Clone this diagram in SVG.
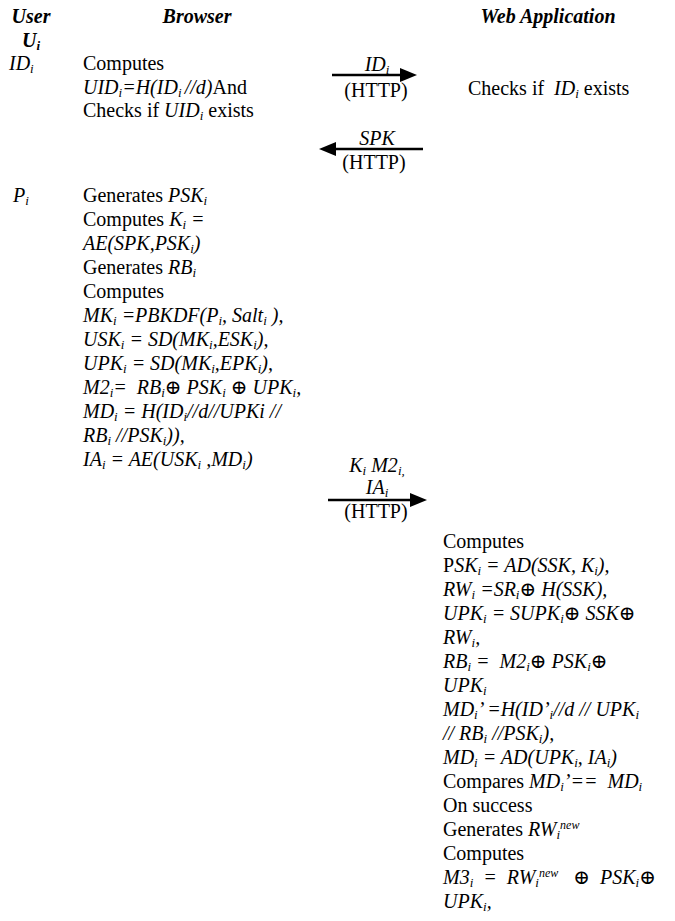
<svg xmlns="http://www.w3.org/2000/svg" width="675" height="921" viewBox="0 0 675 921">
<style>
text{font-family:"Liberation Serif","Times New Roman","DejaVu Serif",serif;font-size:20px;fill:#000;white-space:pre}
.h{font-weight:bold;font-style:italic}
.it{font-style:italic}
.s{font-size:13px;baseline-shift:-3px}
.sup{font-size:12px;baseline-shift:7px}
.c{text-anchor:middle}
.conn line{stroke:#000;stroke-width:2.6}
</style>
<defs>
<marker id="ah" markerUnits="userSpaceOnUse" markerWidth="17" markerHeight="15" refX="12" refY="7" orient="auto">
<path d="M0,0 L17,7 L0,14 z" fill="#000"/>
</marker>
</defs>
<rect width="675" height="921" fill="#fff"/>

<g id="header">
<text class="h c" x="31" y="23">User</text>
<text class="h c" x="31" y="46.5">U<tspan class="s">i</tspan></text>
<text class="h c" x="197" y="23">Browser</text>
<text class="h c" x="548" y="23">Web Application</text>
</g>

<g id="user-id">
<text class="it" x="9" y="70">ID<tspan class="s">i</tspan></text>
</g>

<g id="browser-step1">
<text x="83" y="70">Computes</text>
<text x="83" y="93.5"><tspan class="it">UID</tspan><tspan class="it s">i</tspan><tspan class="it">=H(ID</tspan><tspan class="it s">i </tspan><tspan class="it">//d)</tspan>And</text>
<text x="83" y="117">Checks if <tspan class="it">UID</tspan><tspan class="it s">i</tspan> exists</text>
</g>

<g id="web-step1">
<text x="468" y="95">Checks if  <tspan class="it">ID</tspan><tspan class="it s">i</tspan> exists</text>
</g>

<g id="user-pw">
<text class="it" x="13" y="202">P<tspan class="s">i</tspan></text>
</g>

<g id="browser-step2">
<text x="83" y="202">Generates <tspan class="it">PSK</tspan><tspan class="it s">i</tspan></text>
<text x="83" y="226">Computes <tspan class="it">K</tspan><tspan class="it s">i</tspan><tspan class="it"> =</tspan></text>
<text class="it" x="83" y="250">AE(SPK,PSK<tspan class="s">i</tspan>)</text>
<text x="83" y="274">Generates <tspan class="it">RB</tspan><tspan class="it s">i</tspan></text>
<text x="83" y="298">Computes</text>
<text class="it" x="83" y="322">MK<tspan class="s">i</tspan> =PBKDF(P<tspan class="s">i</tspan>, Salt<tspan class="s">i</tspan> ),</text>
<text class="it" x="83" y="346">USK<tspan class="s">i</tspan> = SD(MK<tspan class="s">i</tspan>,ESK<tspan class="s">i</tspan>),</text>
<text class="it" x="83" y="370">UPK<tspan class="s">i</tspan> = SD(MK<tspan class="s">i</tspan>,EPK<tspan class="s">i</tspan>),</text>
<text class="it" x="83" y="394">M2<tspan class="s">i</tspan>=  RB<tspan class="s">i</tspan>⊕ PSK<tspan class="s">i</tspan> ⊕ UPK<tspan class="s">i</tspan>,</text>
<text class="it" x="83" y="418">MD<tspan class="s">i</tspan> = H(ID<tspan class="s">i</tspan>//d//UPKi //</text>
<text class="it" x="83" y="442">RB<tspan class="s">i</tspan> //PSK<tspan class="s">i</tspan>)),</text>
<text class="it" x="83" y="466">IA<tspan class="s">i</tspan> = AE(USK<tspan class="s">i</tspan> ,MD<tspan class="s">i</tspan>)</text>
</g>

<g id="web-step2">
<text x="443" y="548">Computes</text>
<text x="443" y="572">P<tspan class="it">SK</tspan><tspan class="it s">i</tspan><tspan class="it"> = AD(SSK, K</tspan><tspan class="it s">i</tspan><tspan class="it">),</tspan></text>
<text class="it" x="443" y="596">RW<tspan class="s">i</tspan> =SR<tspan class="s">i</tspan>⊕ H(SSK),</text>
<text class="it" x="443" y="620">UPK<tspan class="s">i</tspan> = SUPK<tspan class="s">i</tspan>⊕ SSK⊕</text>
<text class="it" x="443" y="644">RW<tspan class="s">i</tspan>,</text>
<text class="it" x="443" y="668">RB<tspan class="s">i</tspan> =  M2<tspan class="s">i</tspan>⊕ PSK<tspan class="s">i</tspan>⊕</text>
<text class="it" x="443" y="692">UPK<tspan class="s">i</tspan></text>
<text class="it" x="443" y="716">MD<tspan class="s">i</tspan>’ =H(ID’<tspan class="s">i</tspan>//d // UPK<tspan class="s">i</tspan></text>
<text class="it" x="443" y="740">// RB<tspan class="s">i</tspan> //PSK<tspan class="s">i</tspan>),</text>
<text class="it" x="443" y="764">MD<tspan class="s">i</tspan> = AD(UPK<tspan class="s">i</tspan>, IA<tspan class="s">i</tspan>)</text>
<text x="443" y="788">Compares <tspan class="it">MD</tspan><tspan class="it s">i</tspan><tspan class="it">’==  MD</tspan><tspan class="it s">i</tspan></text>
<text x="443" y="812">On success</text>
<text x="443" y="836">Generates <tspan class="it">RW</tspan><tspan class="it s">i</tspan><tspan class="it sup">new</tspan></text>
<text x="443" y="860">Computes</text>
<text class="it" x="443" y="884">M3<tspan class="s">i</tspan>  =  RW<tspan class="s">i</tspan><tspan class="sup">new</tspan>   ⊕  PSK<tspan class="s">i</tspan>⊕</text>
<text class="it" x="443" y="908">UPK<tspan class="s">i</tspan>,</text>
</g>

<g id="connectors" class="conn">
<line x1="332" y1="75" x2="412" y2="75" marker-end="url(#ah)"/>
<text class="it c" x="377" y="71">ID<tspan class="s">i</tspan></text>
<text class="c" x="376" y="97">(HTTP)</text>

<line x1="423" y1="149" x2="324" y2="149" marker-end="url(#ah)"/>
<text class="it c" x="377" y="145">SPK</text>
<text class="c" x="374" y="169">(HTTP)</text>

<line x1="328" y1="500" x2="422" y2="500" marker-end="url(#ah)"/>
<text class="it c" x="377" y="472">K<tspan class="s">i</tspan> M2<tspan class="s">i,</tspan></text>
<text class="it c" x="377" y="494">IA<tspan class="s">i</tspan></text>
<text class="c" x="376" y="518">(HTTP)</text>
</g>
</svg>
